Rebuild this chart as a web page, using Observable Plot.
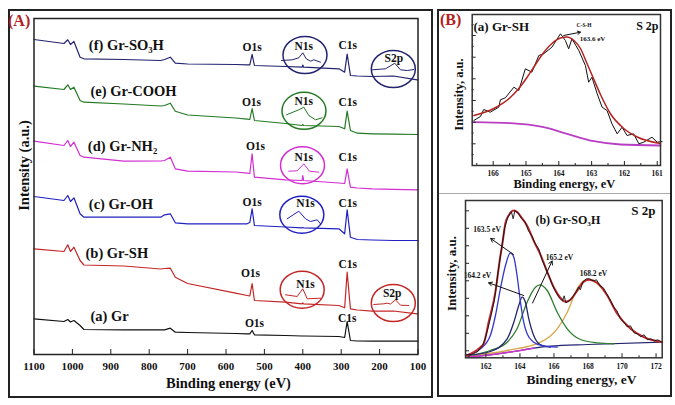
<!DOCTYPE html>
<html><head><meta charset="utf-8">
<script src="https://cdn.jsdelivr.net/npm/d3@7"></script>
<script src="https://cdn.jsdelivr.net/npm/@observablehq/plot@0.6"></script>
<style>
body{margin:0;background:#fff;}
#fig{position:relative;width:675px;height:405px;overflow:hidden;font-family:"Liberation Serif","Times New Roman",serif;}
#fig svg{position:absolute;left:0;top:0;background:transparent !important;}
.box{position:absolute;border:2px solid #222;box-sizing:border-box;}
.sep{position:absolute;height:1px;background:#aaa;}
.tag{position:absolute;color:#b3201e;font-weight:bold;font-size:16px;line-height:1;}
</style></head><body><div id="fig"></div>
<script>
// ---------- Panel A: survey spectra ----------
const energyA = [1100, 1022, 1012, 1005, 996, 980, 970, 866, 770, 760, 745, 732, 700, 575, 545, 538, 532, 526, 445, 402, 400, 398, 306, 291, 284.5, 276, 258, 219, 164, 102, 100];
const grSO3H = [315, 311, 314.7, 310, 313, 297.3, 295.7, 295, 294, 295, 297.3, 291.3, 290.5, 290, 289.7, 289.7, 300.2, 289, 288, 287.3, 289.5, 287.3, 285.7, 282.3, 300.5, 279, 278.5, 278, 278.5, 274.7, 274.7];
const grCOOH = [268.3, 265, 269.7, 265, 267.3, 254, 252.3, 250.5, 248.5, 249, 251.3, 243.3, 239.5, 236.5, 235.3, 235, 246, 234, 231, 229, 230, 229, 228, 225.7, 243.3, 224, 221.3, 220.7, 220.3, 220, 220];
const grNH2 = [213.3, 209, 214, 208, 212.3, 199, 197.3, 193.3, 193.5, 194, 197.3, 185.7, 183.3, 182.5, 181.3, 181, 200.7, 177.3, 174.7, 174, 179, 174, 171.5, 171, 185.7, 167.3, 166.5, 165.7, 165.2, 164.7, 164.7];
const grOH = [158, 154, 159, 153, 156.7, 140.7, 137.3, 137.3, 137.3, 139.7, 140.7, 131.7, 130.7, 130.7, 130.7, 132, 145.7, 129, 127.5, 126.7, 127, 126.7, 125.7, 120.7, 144.7, 117.3, 115, 114.5, 114, 114, 114];
const grSH = [105.7, 103, 109.7, 103, 107.3, 94, 89.5, 88.5, 85.5, 86, 86.3, 77.3, 71, 61.3, 59, 58.5, 71, 54, 52.3, 50.7, 51.5, 50.7, 49, 46.7, 82.3, 45.7, 44.5, 43.3, 43.5, 40.7, 40.7];
const gr = [35.7, 33, 35, 32.5, 34, 29, 25, 24.7, 24.7, 24.7, 26.3, 22.3, 22, 21, 20.7, 20.7, 24, 19.7, 19, 18.5, 18.5, 18.5, 18, 17, 33, 14, 13.5, 13.3, 13.3, 13.3, 13.3];
const seriesNamesA = ["(f) Gr-SO₃H", "(e) Gr-COOH", "(d) Gr-NH₂", "(c) Gr-OH", "(b) Gr-SH", "(a) Gr"];
const seriesColorsA = ["#23236f", "#237a23", "#d22ed2", "#2020c0", "#c42626", "#111111"];
const seriesLabelE = [957.3, 952.9, 959.9, 957.3, 965.9, 952.9];
const seriesLabelI = [309, 263.3, 208, 150, 101.3, 38];
const xTicksA = [1100, 1000, 900, 800, 700, 600, 500, 400, 300, 200, 100];

const peakText = ["O1s","N1s","C1s","S2p","O1s","N1s","C1s","O1s","N1s","C1s","O1s","N1s","C1s","O1s","N1s","C1s","S2p","O1s","C1s"];
const peakE = [532, 397.4, 282.8, 163, 533.6, 397.4, 282.8, 523.2, 397.4, 282.8, 532, 393, 282.8, 536.2, 393, 282.8, 167.2, 525.8, 284.4];
const peakI = [306.7, 308, 309, 296.3, 252.3, 253.3, 252.3, 208, 197.3, 197.3, 152.3, 151.3, 150.7, 80.7, 70, 90, 60.7, 30.7, 35.7];

const ellipseE = [394.3, 164.3, 396.9, 400.8, 402.6, 401.6, 164.3];
const ellipseI = [299.5, 285.5, 243.7, 189.3, 139.8, 64.8, 51.5];
const ellipseSeries = [0, 0, 1, 2, 3, 4, 4];

// insets (magnified regions) inside the ellipses
const insetF_N_E = [455.5, 427.6, 410.4, 400, 391.1, 379.9, 371.4, 353.9];
const insetF_N_I = [294, 294.7, 296.7, 301.7, 295.7, 293.3, 294.7, 292.3];
const insetF_S_E = [219.3, 184.6, 160.4, 145.6, 128.1, 110.9];
const insetF_S_I = [284.7, 285.7, 291.3, 284.7, 284, 285];
const insetE_N_E = [442.4, 410.4, 397.4, 384.4, 366.9, 349.5];
const insetE_N_I = [239.7, 244.7, 247.3, 239, 234.7, 236.7];
const insetD_N_E = [436.5, 414.6, 397.4, 382.6, 358.3];
const insetD_N_I = [183.3, 183.7, 190.7, 183.3, 182.3];
const insetC_N_E = [440.6, 410.4, 393, 380, 362.5, 353.9];
const insetC_N_I = [135.7, 143.3, 135.7, 133, 134.7, 130.7];
const insetB_N_E = [445, 414.6, 400, 388.5, 353.9];
const insetB_N_I = [59.7, 58, 65.7, 55.7, 56.3];
const insetB_S_E = [215.1, 189.1, 180.2, 171.6, 158.6, 145.6, 124];
const insetB_S_I = [50, 50.7, 51.3, 50.5, 54.7, 49.3, 49];

// ---------- Panel B (a): Gr-SH S 2p ----------
const eSH = [166.59, 166.39, 166.29, 166.09, 165.83, 165.78, 165.63, 165.37, 165.22, 165.02, 164.82, 164.61, 164.46, 164.21, 163.95, 163.80, 163.70, 163.60, 163.39, 163.19, 163.09, 162.99, 162.83, 162.68, 162.53, 162.38, 162.22, 162.07, 161.92, 161.72, 161.56, 161.41, 161.16, 161.00, 160.85];
const iSH = [45, 49, 56, 53.3, 58.3, 65.7, 67.7, 78.3, 75, 96.7, 93.3, 110, 111.7, 118.3, 131.7, 125, 116.7, 126.7, 115, 100, 83.3, 88.3, 71.7, 58.3, 55, 41.7, 31.7, 38.3, 30, 31.7, 21.7, 23.3, 28.3, 23.3, 24];
const eSHfit = [166.59, 165.98, 165.48, 165.22, 164.97, 164.71, 164.46, 164.21, 163.95, 163.75, 163.54, 163.34, 163.14, 162.93, 162.73, 162.43, 162.02, 161.61, 160.90];
const iSHfit = [50, 57, 68, 77, 88, 101, 113, 122, 127.5, 128.5, 125, 117, 102, 86, 71, 52, 37, 28.5, 22];
const eSHbg = [166.59, 165.48, 164.46, 163.75, 162.93, 162.12, 160.90];
const iSHbg = [43.3, 42.3, 38.3, 31.7, 24.3, 21, 20];
const xTicksB1 = [166, 165, 164, 163, 162, 161];
const xMinorB1 = [166.5, 165.5, 164.5, 163.5, 162.5, 161.5];
const yTicksB1 = [21.7, 43.3, 65, 86.7, 108.3, 130];
const yMinorB1 = [10.8, 32.5, 54.2, 75.8, 97.5, 119.2, 140.8];

// ---------- Panel B (b): Gr-SO3H S 2p ----------
const eSO3H = [160.85, 161.2, 161.5, 161.8, 161.95, 162.1, 162.3, 162.5, 162.7, 162.9, 163.1, 163.3, 163.5, 163.6, 163.7, 163.9, 164.1, 164.3, 164.5, 164.7, 164.9, 165.1, 165.3, 165.5, 165.7, 165.9, 166.1, 166.3, 166.5, 166.6, 166.7, 166.9, 167.1, 167.3, 167.45, 167.55, 167.7, 167.9, 168.1, 168.3, 168.5, 168.7, 168.9, 169.1, 169.3, 169.5, 169.7, 169.9, 170.1, 170.3, 170.5, 170.7, 170.9, 171.1, 171.3, 171.5, 171.7, 171.9, 172.1, 172.3];
const iSO3H = [3, 3.5, 6, 12, 19, 28, 42, 58, 84, 107, 130, 141, 146, 139, 147, 145, 139, 136, 127, 122, 114, 109, 98, 90, 82, 73, 66, 60, 57, 62, 55, 57, 61, 66, 71, 68, 76, 79, 79, 77, 78, 72, 70, 64, 58, 51, 47, 39, 36, 31, 32, 25, 24, 21, 23, 18, 19, 17, 18, 16];
const eEnv = [160.89, 161.68, 161.87, 162.16, 162.56, 162.85, 162.95, 163.15, 163.34, 163.64, 163.93, 164.03, 164.42, 164.81, 165.21, 165.60, 166.0, 166.38, 166.68, 166.97, 167.36, 167.75, 168.05, 168.54, 169.13, 169.72, 170.50, 171.28, 172.36];
const iEnv = [2.3, 10.6, 14, 35.6, 66, 102, 112, 135, 142.5, 147.3, 144, 141.6, 132, 117, 103, 86, 70, 60, 56, 58, 67, 76, 78, 75, 62.3, 44, 29, 20.6, 15.6];
const eP1635 = [160.89, 161.68, 162.26, 162.56, 162.85, 163.15, 163.44, 163.64, 163.83, 164.03, 164.22, 164.42, 164.81, 165.40, 166.19];
const iP1635 = [3, 9, 22.3, 42.3, 69, 92.3, 105, 100.6, 82.3, 55.6, 35.6, 24, 15.6, 11.6, 10.6];
const eP1642 = [160.89, 162.26, 163.25, 163.64, 163.93, 164.13, 164.32, 164.52, 164.81, 165.21, 165.79];
const iP1642 = [2.3, 6.3, 19, 35.6, 52.3, 60.6, 55.6, 39, 22.3, 13, 10.6];
const eP1652 = [161.28, 162.26, 163.25, 163.83, 164.42, 164.91, 165.17, 165.60, 166.19, 166.78, 167.56, 168.54, 169.52];
const iP1652 = [3, 7.3, 15.6, 29, 55.6, 70.6, 73, 67.3, 45.6, 29, 18.3, 15, 14];
const eP1682 = [160.89, 163.25, 165.21, 166.19, 166.78, 167.36, 167.75, 168.05, 168.54, 169.13, 169.72, 170.50, 171.28, 172.36];
const iP1682 = [1.3, 7.3, 15.6, 29, 45.6, 69, 77.3, 78.3, 74, 62.3, 44, 29, 20.6, 15.6];
const eBase = [160.89, 162.26, 163.64, 164.81, 165.79, 168.0, 172.36];
const iBase = [0.6, 3, 6.3, 9.6, 11.6, 13.3, 15.6];
const xTicksB2 = [162, 164, 166, 168, 170, 172];
const xMinorB2 = [161, 163, 165, 167, 169, 171];
const yTicksB2 = [7, 24.5, 42, 59.5, 77, 94.5, 112, 129.5, 147];

const compText = ["163.5 eV", "164.2 eV", "165.2 eV", "168.2 eV"];
const compTextE = [162.07, 161.5, 166.32, 168.32];
const compTextI = [128, 82.3, 100.6, 84];
const arrowFromE = [163.62, 164.22, 164.74];
const arrowFromI = [103.3, 62.3, 54.8];
const arrowToE = [162.28, 162.16, 165.89];
const arrowToI = [119.3, 75, 96.8];

// ---------- helpers ----------
const rows = (xs, ys) => xs.map((x, i) => ({x, y: ys[i]}));
const FONT = "'Liberation Serif','Times New Roman',serif";
const style = {background: "transparent", fontFamily: FONT, fontWeight: "bold", color: "#111", overflow: "visible"};
function ellipseSymbol(rx, ry) {
  const k = 0.5523;
  return {draw(ctx) {
    ctx.moveTo(rx, 0);
    ctx.bezierCurveTo(rx, ry * k, rx * k, ry, 0, ry);
    ctx.bezierCurveTo(-rx * k, ry, -rx, ry * k, -rx, 0);
    ctx.bezierCurveTo(-rx, -ry * k, -rx * k, -ry, 0, -ry);
    ctx.bezierCurveTo(rx * k, -ry, rx, -ry * k, rx, 0);
    ctx.closePath();
  }};
}
const txt = (t, x, y, o = {}) => Plot.text([{x, y, t}], {x: "x", y: "y", text: "t", fill: "#111", ...o});

// ---------- Panel A plot ----------
const seriesA = [grSO3H, grCOOH, grNH2, grOH, grSH, gr];
const insetsA = [
  [insetF_N_E, insetF_N_I, 0], [insetF_S_E, insetF_S_I, 0], [insetE_N_E, insetE_N_I, 1],
  [insetD_N_E, insetD_N_I, 2], [insetC_N_E, insetC_N_I, 3], [insetB_N_E, insetB_N_I, 4], [insetB_S_E, insetB_S_I, 4]
];
const plotA = Plot.plot({
  width: 675, height: 405,
  marginLeft: 33.5, marginRight: 257.5, marginTop: 18, marginBottom: 51,
  style,
  color: {type: "identity"},
  x: {domain: [1100, 100], label: null},
  y: {domain: [0, 336], axis: null},
  marks: [
    ...seriesA.map((v, k) => Plot.line(rows(energyA, v), {x: "x", y: "y", stroke: seriesColorsA[k], strokeWidth: 1.2})),
    Plot.dot(ellipseE.map((e, i) => ({x: e, y: ellipseI[i], c: seriesColorsA[ellipseSeries[i]]})),
      {x: "x", y: "y", stroke: "c", fill: "none", r: 20, symbol: ellipseSymbol(22, 18.5), strokeWidth: 1.5}),
    ...insetsA.map(([e, i, k]) => Plot.line(rows(e, i), {x: "x", y: "y", stroke: seriesColorsA[k], strokeWidth: 1})),
    Plot.text(peakText.map((t, i) => ({t, x: peakE[i], y: peakI[i]})), {x: "x", y: "y", text: "t", fontSize: 11.5, fill: "#111"}),
    Plot.text(seriesNamesA.map((t, i) => ({t, x: seriesLabelE[i], y: seriesLabelI[i]})), {x: "x", y: "y", text: "t", textAnchor: "start", fontSize: 14.5, fill: "#111"}),
    Plot.ruleX(xTicksA, {x: d => d, y1: 0, y2: 5, stroke: "#222"}),
    Plot.axisX({ticks: xTicksA, tickSize: 0, tickPadding: 8, tickFormat: d => String(d), fontSize: 11, label: null}),
    txt("Binding energy (eV)", 593.5, -29, {fontSize: 14.5}),
    txt("Intensity (a.u.)", 1126, 189, {fontSize: 14.5, rotate: -90}),
    Plot.frame({stroke: "#222", strokeWidth: 1.5})
  ]
});

// ---------- Panel B1 plot ----------
const plotB1 = Plot.plot({
  width: 675, height: 405,
  marginLeft: 471.7, marginRight: 15, marginTop: 14, marginBottom: 240,
  style,
  x: {domain: [166.64, 160.9], label: null},
  y: {domain: [0, 151], axis: null},
  marks: [
    Plot.line(rows(eSHbg, iSHbg), {x: "x", y: "y", stroke: "#b83fc4", strokeWidth: 1.8, curve: "monotone-x"}),
    Plot.line(rows(eSH, iSH), {x: "x", y: "y", stroke: "#111", strokeWidth: 1}),
    Plot.line(rows(eSHfit, iSHfit), {x: "x", y: "y", stroke: "#b5231f", strokeWidth: 1.5, curve: "monotone-x"}),
    Plot.ruleX(xTicksB1, {x: d => d, y1: 0, y2: 4, stroke: "#222"}),
    Plot.ruleX(xMinorB1, {x: d => d, y1: 0, y2: 2, stroke: "#222"}),
    Plot.ruleY(yTicksB1, {y: d => d, x1: 166.64, x2: 166.52, stroke: "#222"}),
    Plot.ruleY(yMinorB1, {y: d => d, x1: 166.64, x2: 166.58, stroke: "#222"}),
    Plot.axisX({ticks: xTicksB1, tickSize: 0, tickPadding: 5, tickFormat: d => String(d), fontSize: 7.5, label: null}),
    txt("(a) Gr-SH", 166.6, 138.3, {fontSize: 13, textAnchor: "start"}),
    txt("S 2p", 160.96, 139, {fontSize: 12, textAnchor: "end"}),
    txt("C-S-H", 163.23, 140, {fontSize: 5.5}),
    txt("163.6 eV", 162.97, 126.7, {fontSize: 7}),
    Plot.arrow([{x1: 163.85, y1: 130, x2: 163.34, y2: 133.3}], {x1: "x1", y1: "y1", x2: "x2", y2: "y2", stroke: "#111", strokeWidth: 1, headLength: 5}),
    txt("Binding energy, eV", 163.83, -18, {fontSize: 12.5}),
    txt("Intensity, a.u.", 167.03, 71, {fontSize: 12.5, rotate: -90}),
    Plot.frame({stroke: "#333", strokeWidth: 1.5})
  ]
});

// ---------- Panel B2 plot ----------
const plotB2 = Plot.plot({
  width: 675, height: 405,
  marginLeft: 465, marginRight: 13.3, marginTop: 200, marginBottom: 47.7,
  style,
  x: {domain: [160.8, 172.36], label: null},
  y: {domain: [0, 157.3], axis: null},
  marks: [
    Plot.line(rows(eBase, iBase), {x: "x", y: "y", stroke: "#23236f", strokeWidth: 1.2, curve: "monotone-x"}),
    Plot.line(rows(eP1682, iP1682), {x: "x", y: "y", stroke: "#d6a64a", strokeWidth: 1.3, curve: "monotone-x"}),
    Plot.line(rows(eP1652, iP1652), {x: "x", y: "y", stroke: "#2f7d2f", strokeWidth: 1.3, curve: "monotone-x"}),
    Plot.line(rows(eP1642, iP1642), {x: "x", y: "y", stroke: "#23236f", strokeWidth: 1.3, curve: "monotone-x"}),
    Plot.line(rows(eP1635, iP1635), {x: "x", y: "y", stroke: "#3535d0", strokeWidth: 1.3, curve: "monotone-x"}),
    Plot.line(rows(eBase.slice(0, 4), iBase.slice(0, 4)), {x: "x", y: "y", stroke: "#cc33cc", strokeWidth: 1.5, curve: "monotone-x"}),
    Plot.line(rows(eEnv, iEnv), {x: "x", y: "y", stroke: "#c0282d", strokeWidth: 2, curve: "monotone-x"}),
    Plot.line(rows(eSO3H, iSO3H), {x: "x", y: "y", stroke: "#111", strokeWidth: 0.9}),
    Plot.ruleX(xTicksB2, {x: d => d, y1: 0, y2: 4, stroke: "#222"}),
    Plot.ruleX(xMinorB2, {x: d => d, y1: 0, y2: 2, stroke: "#222"}),
    Plot.ruleY(yTicksB2, {y: d => d, x1: 160.8, x2: 161.04, stroke: "#222"}),
    Plot.axisX({ticks: xTicksB2, tickSize: 0, tickPadding: 6, tickFormat: d => String(d), fontSize: 7.5, label: null}),
    txt("(b) Gr-SO₃H", 164.91, 137.3, {fontSize: 12, textAnchor: "start"}),
    txt("S 2p", 171.97, 147.3, {fontSize: 13, textAnchor: "end"}),
    Plot.text(compText.map((t, i) => ({t, x: compTextE[i], y: compTextI[i]})), {x: "x", y: "y", text: "t", fontSize: 7.5, fill: "#111"}),
    Plot.arrow(arrowFromE.map((e, i) => ({x1: e, y1: arrowFromI[i], x2: arrowToE[i], y2: arrowToI[i]})),
      {x1: "x1", y1: "y1", x2: "x2", y2: "y2", stroke: "#111", strokeWidth: 1, headLength: 6}),
    txt("Binding energy, eV", 167.62, -22, {fontSize: 13.5}),
    txt("Intensity, a.u.", 160.01, 84.3, {fontSize: 13, rotate: -90}),
    Plot.frame({stroke: "#333", strokeWidth: 1.5})
  ]
});

// ---------- assemble ----------
const fig = document.getElementById("fig");
function div(cls, l, t, w, h, html) {
  const d = document.createElement("div");
  d.className = cls;
  d.style.left = l + "px"; d.style.top = t + "px";
  if (w != null) d.style.width = w + "px";
  if (h != null) d.style.height = h + "px";
  if (html) d.textContent = html;
  fig.appendChild(d);
  return d;
}
div("box", 8, 9, 425, 389);
div("box", 437, 9, 235, 388);
div("sep", 439, 193, 231, 1);
fig.appendChild(plotA);
fig.appendChild(plotB1);
fig.appendChild(plotB2);
div("tag", 8, 13, null, null, "(A)");
div("tag", 440, 12, null, null, "(B)");
</script></body></html>
